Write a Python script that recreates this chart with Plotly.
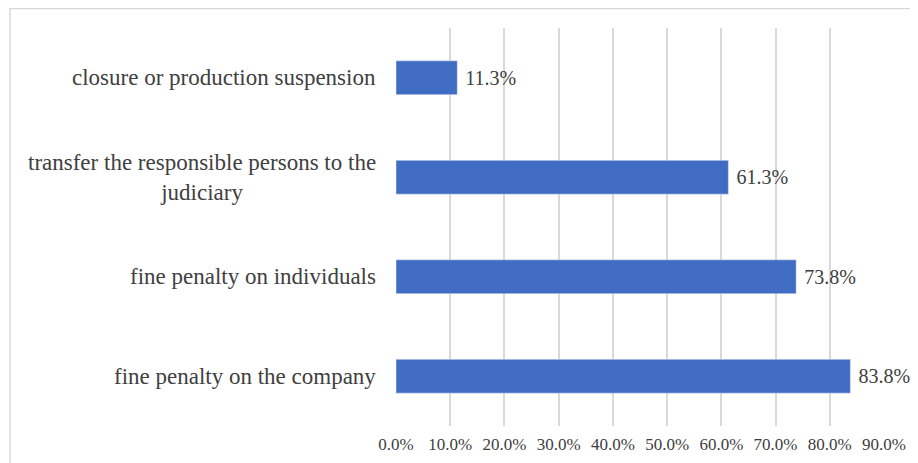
import plotly.graph_objects as go

categories = [
    "fine penalty on the company",
    "fine penalty on individuals",
    "transfer the responsible persons to the<br>judiciary",
    "closure or production suspension",
]
values = [83.8, 73.8, 61.3, 11.3]
tick_vals = [0, 10, 20, 30, 40, 50, 60, 70, 80, 90]
tick_text = ["0.0%", "10.0%", "20.0%", "30.0%", "40.0%", "50.0%",
             "60.0%", "70.0%", "80.0%", "90.0%"]

W, H = 918, 463
ml, mr, mt, mb = 388, 42, 20, 45
pw = W - ml - mr
ph = H - mt - mb

fig = go.Figure()
fig.add_trace(go.Bar(
    x=values,
    y=categories,
    orientation="h",
    marker=dict(color="#416cc4"),
    text=[" " + f"{v:.1f}%" for v in values],
    textposition="outside",
    textfont=dict(family="Liberation Serif", size=20, color="#404040"),
    cliponaxis=False,
    constraintext="none",
))

for c in categories:
    fig.add_annotation(
        x=0, y=c, xref="x", yref="y", text=c, showarrow=False,
        xanchor="right", align="center", xshift=-18,
        font=dict(family="Liberation Serif", size=23, color="#404040"),
    )

fig.add_shape(
    type="rect", xref="paper", yref="paper",
    x0=(2 - ml) / pw, x1=(W + 20 - ml) / pw,
    y0=-(H + 20 - mt - ph) / ph, y1=1 + (mt - 0.5) / ph,
    line=dict(color="#d9d9d9", width=1.5), fillcolor="rgba(0,0,0,0)",
    layer="below",
)

fig.update_layout(
    width=W, height=H,
    margin=dict(l=ml, r=mr, t=mt, b=mb),
    paper_bgcolor="white", plot_bgcolor="white",
    bargap=0.66,
    showlegend=False,
    font=dict(family="Liberation Serif", color="#404040"),
    xaxis=dict(
        range=[0, 90], tickvals=tick_vals, ticktext=tick_text,
        showgrid=True, gridcolor="#d9d9d9", gridwidth=1.5,
        zeroline=False, showline=False,
        tickfont=dict(family="Liberation Serif", size=17, color="#404040"),
        ticks="", ticklabelstandoff=6,
    ),
    yaxis=dict(
        showticklabels=False, showgrid=False, zeroline=False,
        categoryorder="array", categoryarray=categories,
    ),
)

fig.write_html("out.html")
